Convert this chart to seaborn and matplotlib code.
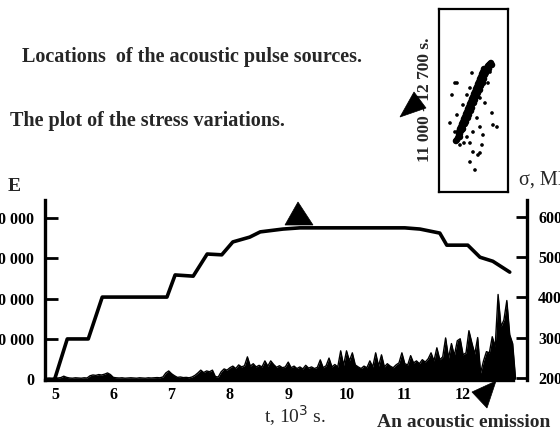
import numpy as np
import pandas as pd
import matplotlib
matplotlib.use("Agg")
import matplotlib.pyplot as plt
from matplotlib.patches import Polygon
import seaborn as sns

# ---------------- data ----------------
# stress curve (right axis, MPa)
stress_t = [5.00, 5.21, 5.57, 5.81, 6.92, 7.06, 7.37, 7.61, 7.86, 8.05, 8.34, 8.52,
            8.91, 9.20, 9.97, 11.00, 11.26, 11.43, 11.60, 11.72, 12.08, 12.29, 12.51, 12.80]
stress_mpa = [200, 297, 297, 401, 401, 456, 453, 508, 506, 538, 550, 563,
              570, 573, 573, 573, 570, 565, 560, 530, 530, 500, 490, 463]

# acoustic emission energy (left axis, E), sampled every 0.05 (10^3 s) from 4.85 to 12.90
ae_t = np.round(np.arange(4.85, 12.901, 0.05), 2)
ae_E = [200, 250, 200,
        300, 250, 350, 700, 400, 250, 200, 300, 250, 200, 300, 250, 800, 1000, 900, 1100, 1000, 1200, 1500, 1100,
        400, 300, 250, 300, 200, 250, 300, 250, 200, 300, 250, 200, 300, 250, 300, 350, 300, 500, 1500, 2000,
        1300, 800, 400, 500, 350, 400, 300, 500, 900, 1500, 2200, 1600, 2000, 1800, 2200, 600, 500, 1800, 2500, 2200,
        2800, 3200, 2600, 3500, 3000, 3300, 5500, 3200, 3800, 3000, 3400, 3000, 4500, 3200, 4500, 3600, 2900, 3300, 2800, 3000,
        4200, 2800, 3200, 2600, 3000, 2500, 3400, 2700, 3000, 2600, 2900, 4750, 2800, 3300, 5200, 3000, 3600, 3000, 7000, 3400,
        7000, 4500, 6500, 3500, 3000, 2600, 3200, 2800, 4500, 3000, 6500, 3200, 6000, 3000, 3800, 3200, 2800, 3500, 4000, 6500,
        3800, 3500, 5800, 4000, 4500, 3800, 4800, 4200, 5000, 6500, 4500, 7750, 4800, 5500, 10200, 5200, 8800, 5800, 9500, 10000,
        6000, 6500, 12000, 9000, 6200, 10300, 1500, 4500, 6800, 6500, 10500, 8000, 21000, 13000, 14700, 19500, 11000, 8800, 0]

x_ticks = [5, 6, 7, 8, 9, 10, 11, 12]
e_ticks = [0, 10000, 20000, 30000, 40000]
e_labels = ["0", "10 000", "20 000", "30 000", "40 000"]
s_ticks = [200, 300, 400, 500, 600]
s_labels = ["200", "300", "400", "500", "600"]

# locations of acoustic pulse sources (inset, arbitrary coordinates)
loc_x = [19, 20, 21, 20, 22, 21, 23, 22, 24, 23, 25, 24, 26, 25, 27, 26, 28, 27, 29, 28, 30, 29, 31, 30, 32, 31,
         33, 32, 34, 33, 35, 34, 36, 35, 37, 36, 38, 37, 39, 38, 40, 39, 41, 40, 42, 41, 43, 42, 44, 43, 45, 44,
         46, 45, 47, 48, 49, 50, 51, 52, 53, 48, 50, 46, 21, 18, 17, 24, 27, 30, 33, 36, 39, 42, 45, 47, 26, 29,
         32, 35, 38, 41, 44,
         13, 11, 16, 21, 25, 28, 34, 39, 44, 41, 38, 46, 53, 54, 24, 28, 31, 51, 50, 33, 49, 41, 34, 16, 31, 43,
         18, 31, 18, 58, 41, 36]
loc_y = [54, 57, 58, 60, 61, 63, 62, 65, 66, 68, 68, 70, 71, 73, 73, 75, 76, 78, 78, 80, 80, 83, 82, 85, 86, 88,
         88, 90, 91, 93, 93, 95, 96, 98, 98, 100, 101, 103, 103, 105, 106, 108, 108, 110, 111, 113, 113, 115, 116, 118, 118, 120,
         121, 123, 122, 124, 126, 127, 128, 129, 127, 121, 123, 117, 55, 52, 51, 63, 70, 77, 84, 92, 99, 106, 113, 119, 68, 74,
         81, 89, 96, 102, 109,
         97, 69, 109, 47, 49, 55, 40, 37, 57, 65, 74, 89, 79, 67, 87, 97, 104, 120, 127, 119, 109, 94, 60, 60, 49, 47,
         77, 30, 109, 65, 39, 22]
loc_kind = ["band"] * 83 + ["scatter"] * 32

# ---------------- figure ----------------
sns.set_theme(style="white")
plt.rcParams["font.family"] = ["Liberation Serif", "DejaVu Serif"]

W, H = 560, 436
fig = plt.figure(figsize=(W / 100, H / 100), dpi=100)


def fx(x):
    return x / W


def fy(y):
    return 1 - y / H


ax = fig.add_axes([fx(45), fy(380), (527 - 45) / W, 180 / H])
ax.set_facecolor("none")

ae_df = pd.DataFrame({"t": ae_t, "E": ae_E})
ax.fill_between(ae_df["t"], 0, ae_df["E"], color="black", lw=0)
sns.lineplot(data=ae_df, x="t", y="E", ax=ax, color="black", lw=1.0)

ax.set_xlim(4.828, 13.096)
ax.set_ylim(-248, 44472)
ax.set_xticks(x_ticks)
ax.set_xticklabels([str(v) for v in x_ticks], fontweight="bold", fontsize=11.5)
ax.set_yticks(e_ticks)
ax.set_yticklabels(e_labels, fontweight="bold", fontsize=11.5)
ax.tick_params(axis="x", length=0, pad=5, colors="black")
ax.tick_params(axis="y", direction="in", length=9, width=2, pad=8, colors="black")
ax.set_xlabel("")
ax.set_ylabel("")
for s in ["top", "right"]:
    ax.spines[s].set_visible(False)
ax.spines["left"].set_linewidth(2.4)
ax.spines["left"].set_color("black")
ax.spines["bottom"].set_linewidth(2.4)
ax.spines["bottom"].set_color("black")
ax.spines["bottom"].set_bounds(4.828, 12.86)

ax2 = ax.twinx()
st_df = pd.DataFrame({"t": stress_t, "s": stress_mpa})
sns.lineplot(data=st_df, x="t", y="s", ax=ax2, color="black", lw=2.6)
ax2.set_ylim(195.0, 642.2)
ax2.set_yticks(s_ticks)
ax2.set_yticklabels(s_labels, fontweight="bold", fontsize=11.5)
ax2.tick_params(axis="y", direction="in", length=8, width=2, pad=8, colors="black")
ax2.set_ylabel("")
for s in ["top", "left", "bottom"]:
    ax2.spines[s].set_visible(False)
ax2.spines["right"].set_linewidth(2.4)
ax2.spines["right"].set_color("black")

# axis annotations
fig.text(fx(8), fy(186), "E", fontsize=14, fontweight="bold", va="center", ha="left")
fig.text(fx(519), fy(180), "σ, MPa", fontsize=14.5, va="center", ha="left")
fig.text(fx(295), fy(416), "t, 10$^3$ s.", fontsize=14, va="center", ha="center")
fig.text(fx(377), fy(422), "An acoustic emission", fontsize=14, fontweight="bold", va="center", ha="left")
fig.text(fx(22), fy(57), "Locations  of the acoustic pulse sources.", fontsize=14.5,
         fontweight="bold", va="center", ha="left")
fig.text(fx(10), fy(121), "The plot of the stress variations.", fontsize=14.5,
         fontweight="bold", va="center", ha="left")
fig.text(fx(425), fy(100), "11 000 - 12 700 s.", fontsize=12.5, fontweight="bold",
         rotation=90, va="center", ha="center")

# inset with source locations
axi = fig.add_axes([fx(439), fy(192), 69 / W, 183 / H])
loc_df = pd.DataFrame({"x": loc_x, "y": loc_y, "kind": loc_kind})
sns.scatterplot(data=loc_df, x="x", y="y", ax=axi, hue="kind", size="kind",
                sizes={"band": 22, "scatter": 7},
                palette={"band": "black", "scatter": "black"}, edgecolor="none", legend=False)
axi.set_xlim(0, 69)
axi.set_ylim(0, 183)
axi.set_xticks([])
axi.set_yticks([])
axi.set_xlabel("")
axi.set_ylabel("")
for s in axi.spines.values():
    s.set_linewidth(1.6)
    s.set_color("black")


# pointer triangles
def tri(pts):
    fig.patches.append(Polygon([(fx(x), fy(y)) for x, y in pts], closed=True,
                               transform=fig.transFigure, facecolor="black",
                               edgecolor="black", lw=0.5, zorder=10))


tri([(285, 225), (313, 225), (298, 202)])
tri([(472, 392), (496, 381), (487, 408)])
tri([(400, 117), (414, 92), (426, 108)])

fig.savefig("out.png", dpi=100)
